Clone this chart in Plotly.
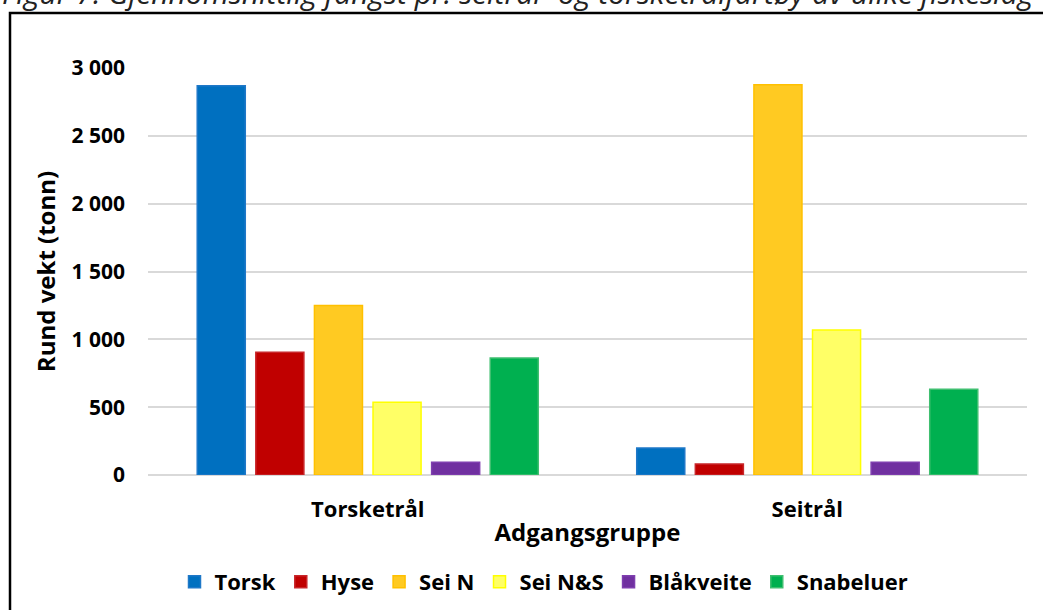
import plotly.graph_objects as go

groups = ["Torsketrål", "Seitrål"]
species = ["Torsk", "Hyse", "Sei N", "Sei N&S", "Blåkveite", "Snabeluer"]
torsk = [2870, 199]
hyse = [905, 81]
sei_n = [1250, 2876]
sei_ns = [536, 1069]
blakveite = [94, 94]
snabeluer = [863, 632]
values = [torsk, hyse, sei_n, sei_ns, blakveite, snabeluer]

fills = ["#0070C0", "#C00000", "#FFCA22", "#FFFF66", "#7030A0", "#00B050"]
lines = ["#1F78C8", "#C8262A", "#FFC000", "#FFFF00", "#7F3FAF", "#3FBF70"]

W, H = 1043, 610
L, T = 148, 68
R = W - 1027
B = H - 475
pw, ph = W - L - R, H - T - B

def px_x(p):  # screen px -> paper
    return (p - L) / pw

def px_y(p):
    return (H - B - p) / ph

FONT = "Open Sans"

fig = go.Figure()
for name, vals, fc, lc in zip(species, values, fills, lines):
    fig.add_trace(go.Bar(
        x=groups, y=vals, name=name,
        marker=dict(color=fc, line=dict(color=lc, width=1.5)),
    ))

fig.update_layout(
    width=W, height=H,
    margin=dict(l=L, r=R, t=T, b=B, autoexpand=False),
    paper_bgcolor="white", plot_bgcolor="white",
    separators=", ",
    barmode="group", bargap=0.2, bargroupgap=0.18,
    font=dict(family=FONT, color="black"),
    showlegend=True,
    legend=dict(
        orientation="h", x=px_x(544), xanchor="center",
        y=px_y(582), yanchor="middle",
        font=dict(family=FONT, size=22, weight="bold"),
        itemwidth=30, traceorder="normal",
    ),
    xaxis=dict(
        showgrid=False, showline=False, zeroline=False, ticks="",
        tickfont=dict(family=FONT, size=22, weight="bold"),
        ticklabelstandoff=19,
        title=dict(text="Adgangsgruppe", font=dict(family=FONT, size=24, weight="bold"), standoff=2),
    ),
    yaxis=dict(
        range=[0, 3000], dtick=500, tickformat=",d",
        showgrid=True, gridcolor="#D9D9D9", gridwidth=1.5,
        zeroline=True, zerolinecolor="#D9D9D9", zerolinewidth=1.5,
        showline=False, ticks="",
        tickfont=dict(family=FONT, size=21, weight="bold"),
        ticklabelstandoff=22,
        title=dict(text="Rund vekt (tonn)", font=dict(family=FONT, size=24, weight="bold"), standoff=9),
    ),
)

fig.add_annotation(
    xref="paper", yref="paper", x=px_x(0), y=px_y(15),
    xanchor="left", yanchor="bottom", showarrow=False,
    text="Figur 7: Gjennomsnittlig fangst pr. seitrål- og torsketrålfartøy av ulike fiskeslag",
    font=dict(family=FONT, size=30, style="italic", color="#222222"),
)

fig.add_shape(
    type="rect", xref="paper", yref="paper",
    x0=px_x(10), x1=px_x(1080), y0=px_y(660), y1=px_y(13),
    line=dict(color="black", width=2.5), fillcolor="rgba(0,0,0,0)", layer="above",
)

fig.write_html("out.html", config={"displayModeBar": False},
               post_script="document.body.style.margin='0';")
